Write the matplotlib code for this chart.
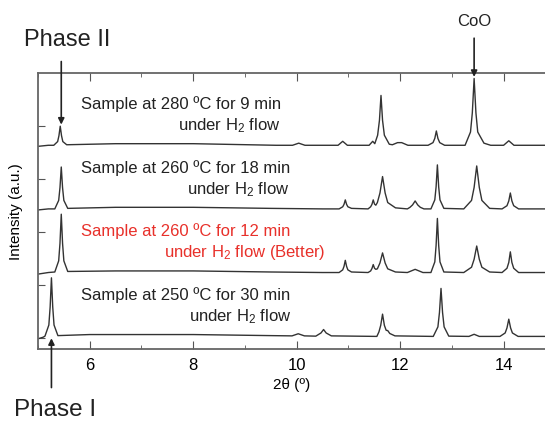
import matplotlib
matplotlib.use('Agg')
import matplotlib.pyplot as plt
from matplotlib.ticker import MultipleLocator

plt.rcParams['font.family'] = ['Liberation Sans', 'DejaVu Sans']
plt.rcParams['mathtext.fontset'] = 'custom'
plt.rcParams['mathtext.rm'] = 'Liberation Sans'
plt.rcParams['mathtext.default'] = 'regular'

# XRD patterns, 2theta vs offset intensity
# 280 C, 9 min
t1_x = [5.00, 5.20, 5.305, 5.38, 5.405, 5.43, 5.455, 5.48, 5.555, 6.5, 8.0, 9.6,
        9.92, 10.04, 10.16, 10.80, 10.89, 10.98, 11.40, 11.47, 11.51,
        11.565, 11.60, 11.63, 11.66, 11.695, 11.79, 11.85, 11.95, 12.03, 12.15,
        12.54, 12.635, 12.67, 12.70, 12.73, 12.765, 12.86,
        13.255, 13.36, 13.395, 13.43, 13.465, 13.50, 13.62, 13.75,
        14.00, 14.10, 14.20, 14.81]
t1_y = [3.62, 3.64, 3.64, 3.71, 3.82, 4.00, 3.82, 3.71, 3.65, 3.67, 3.67, 3.64,
        3.64, 3.68, 3.64, 3.64, 3.715, 3.64, 3.64, 3.715, 3.67,
        3.83, 4.11, 4.58, 4.11, 3.83, 3.66, 3.65, 3.69, 3.69, 3.64,
        3.64, 3.69, 3.77, 3.91, 3.77, 3.69, 3.64,
        3.64, 3.89, 4.25, 4.90, 4.25, 3.89, 3.68, 3.64,
        3.64, 3.725, 3.64, 3.64]

# 260 C, 18 min
t2_x = [5.00, 5.20, 5.325, 5.40, 5.425, 5.45, 5.475, 5.50, 5.575, 6.5, 8.0, 9.5, 10.5,
        10.82, 10.89, 10.915, 10.94, 10.965, 10.99, 11.06,
        11.38, 11.43, 11.455, 11.48, 11.505, 11.53,
        11.56, 11.61, 11.66, 11.71, 11.76, 11.91,
        12.14, 12.19, 12.24, 12.29, 12.34, 12.39, 12.46,
        12.595, 12.67, 12.695, 12.72, 12.745, 12.77, 12.845,
        13.23, 13.38, 13.43, 13.48, 13.53, 13.58, 13.73,
        13.97, 14.065, 14.10, 14.13, 14.16, 14.195, 14.29, 14.81]
t2_y = [2.42, 2.44, 2.44, 2.60, 2.84, 3.23, 2.84, 2.60, 2.45, 2.47, 2.47, 2.45, 2.44,
        2.44, 2.48, 2.525, 2.61, 2.525, 2.48, 2.45,
        2.44, 2.48, 2.525, 2.61, 2.53, 2.51,
        2.56, 2.74, 3.05, 2.74, 2.56, 2.46,
        2.44, 2.47, 2.515, 2.59, 2.515, 2.47, 2.44,
        2.44, 2.61, 2.855, 3.27, 2.855, 2.61, 2.45,
        2.44, 2.60, 2.845, 3.25, 2.845, 2.60, 2.45,
        2.44, 2.50, 2.59, 2.74, 2.59, 2.50, 2.44, 2.44]

# 260 C, 12 min
t3_x = [5.00, 5.20, 5.325, 5.40, 5.425, 5.45, 5.475, 5.50, 5.575, 6.5, 8.0, 9.5, 10.5,
        10.82, 10.89, 10.915, 10.94, 10.965, 10.99, 11.06,
        11.38, 11.43, 11.455, 11.48, 11.505, 11.53,
        11.56, 11.61, 11.66, 11.71, 11.76, 11.91,
        12.14, 12.29, 12.44,
        12.595, 12.67, 12.695, 12.72, 12.745, 12.77, 12.845,
        13.23, 13.38, 13.43, 13.48, 13.53, 13.58, 13.73,
        13.97, 14.065, 14.10, 14.13, 14.16, 14.195, 14.29, 14.81]
t3_y = [1.21, 1.24, 1.25, 1.46, 1.79, 2.34, 1.79, 1.46, 1.26, 1.27, 1.27, 1.25, 1.24,
        1.24, 1.29, 1.355, 1.47, 1.355, 1.29, 1.25,
        1.24, 1.27, 1.315, 1.39, 1.32, 1.30,
        1.31, 1.42, 1.61, 1.42, 1.31, 1.25,
        1.24, 1.30, 1.24,
        1.24, 1.44, 1.75, 2.26, 1.75, 1.44, 1.25,
        1.24, 1.34, 1.49, 1.74, 1.49, 1.34, 1.25,
        1.24, 1.32, 1.43, 1.63, 1.43, 1.32, 1.24, 1.24]

# 250 C, 30 min
t4_x = [5.00, 5.10, 5.135, 5.21, 5.235, 5.26, 5.285, 5.31, 5.385, 6.0, 8.0, 9.5,
        9.91, 10.03, 10.15, 10.37, 10.47, 10.52, 10.57, 10.67,
        11.55, 11.59, 11.625, 11.66, 11.695, 11.73, 11.76, 11.80, 11.90,
        12.64, 12.73, 12.76, 12.79, 12.82, 12.85, 12.94,
        13.33, 13.43, 13.53,
        13.93, 14.03, 14.065, 14.10, 14.135, 14.17, 14.28, 14.81]
t4_y = [-0.01, 0.02, 0.04, 0.25, 0.59, 1.14, 0.59, 0.25, 0.05, 0.07, 0.07, 0.05,
        0.045, 0.085, 0.045, 0.04, 0.10, 0.165, 0.10, 0.045,
        0.035, 0.12, 0.245, 0.455, 0.245, 0.15, 0.145, 0.09, 0.045,
        0.035, 0.215, 0.485, 0.94, 0.485, 0.215, 0.04,
        0.035, 0.075, 0.035,
        0.035, 0.10, 0.195, 0.36, 0.195, 0.10, 0.035, 0.035]

labels_top = ['Sample at 280 ºC for 9 min', 'Sample at 260 ºC for 18 min',
              'Sample at 260 ºC for 12 min', 'Sample at 250 ºC for 30 min']
labels_bottom = ['under H$_2$ flow', 'under H$_2$ flow',
                 'under H$_2$ flow (Better)', 'under H$_2$ flow']
baselines = [3.64, 2.44, 1.24, 0.04]
label_ends = [9.68, 9.87, 10.56, 9.89]
label_colors = ['#222222', '#222222', '#e8302a', '#222222']

fig = plt.figure(figsize=(5.45, 4.23), dpi=100)
ax = fig.add_axes([0.0697, 0.174, 0.9303, 0.653])

line_c = '#333333'
for xs, ys in [(t1_x, t1_y), (t2_x, t2_y), (t3_x, t3_y), (t4_x, t4_y)]:
    ax.plot(xs, ys, color=line_c, lw=1.0)

for i in range(4):
    b = baselines[i]
    ax.text(5.84, b + 0.78, labels_top[i], fontsize=12, color=label_colors[i],
            ha='left', va='center')
    ax.text(label_ends[i], b + 0.37, labels_bottom[i], fontsize=12,
            color=label_colors[i], ha='right', va='center')

ax.set_xlim(5.0, 14.8)
ax.set_ylim(-0.21, 5.0)
ax.xaxis.set_major_locator(MultipleLocator(2))
ax.xaxis.set_minor_locator(MultipleLocator(1))
ax.set_yticks([0, 1, 2, 3, 4])
ax.set_yticklabels([])
ax.tick_params(axis='x', which='both', direction='in', top=True, labelsize=12,
               color='#555555', pad=6)
ax.tick_params(axis='x', which='major', length=6)
ax.tick_params(axis='x', which='minor', length=3)
ax.tick_params(axis='y', direction='in', length=5, color='#555555')
for s in ['left', 'top', 'bottom']:
    ax.spines[s].set_color('#666666')
    ax.spines[s].set_linewidth(1.3)
ax.spines['right'].set_visible(False)

ax.set_xlabel('2θ (º)', fontsize=11, labelpad=4)
ax.set_ylabel('Intensity (a.u.)', fontsize=11)
ax.yaxis.set_label_coords(-0.030, 0.5)

arrow = dict(arrowstyle='-|>', color='#222222', lw=1.2, mutation_scale=9,
             shrinkA=0, shrinkB=0)
ax.annotate('', xy=(5.45, 4.03), xytext=(5.45, 5.22), arrowprops=arrow,
            annotation_clip=False)
ax.annotate('', xy=(13.43, 4.93), xytext=(13.43, 5.66), arrowprops=arrow,
            annotation_clip=False)
ax.annotate('', xy=(5.26, 0.0), xytext=(5.26, -0.93), arrowprops=arrow,
            annotation_clip=False)

ax.text(5.56, 5.63, 'Phase II', fontsize=17, ha='center', va='center',
        color='#222222', clip_on=False)
ax.text(13.43, 5.97, 'CoO', fontsize=12, ha='center', va='center',
        color='#222222', clip_on=False)
ax.text(5.33, -1.36, 'Phase I', fontsize=17.5, ha='center', va='center',
        color='#222222', clip_on=False)

fig.savefig('out.png', dpi=100)
